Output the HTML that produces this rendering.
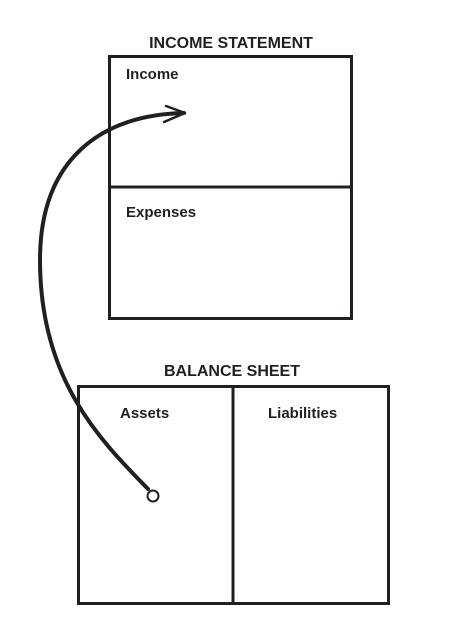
<!DOCTYPE html>
<html><head><meta charset="utf-8"><style>
body{margin:0;background:#fff;width:463px;height:629px;overflow:hidden}
svg{display:block}
text{font-family:"Liberation Sans",Arial,sans-serif;font-weight:bold;fill:#231f20}
</style></head><body>
<svg width="463" height="629" viewBox="0 0 463 629">
<text x="231" y="48" font-size="16" text-anchor="middle">INCOME STATEMENT</text>
<rect x="109.5" y="56.5" width="242" height="262" fill="none" stroke="#231f20" stroke-width="3"/>
<line x1="109" y1="187" x2="352" y2="187" stroke="#231f20" stroke-width="3"/>
<text x="126" y="79" font-size="15">Income</text>
<text x="126" y="217" font-size="15">Expenses</text>
<text x="232" y="376" font-size="16" text-anchor="middle">BALANCE SHEET</text>
<rect x="78.5" y="386.5" width="310" height="217" fill="none" stroke="#231f20" stroke-width="3"/>
<line x1="233" y1="386" x2="233" y2="604" stroke="#231f20" stroke-width="3"/>
<text x="120" y="418" font-size="15">Assets</text>
<text x="268" y="418" font-size="15">Liabilities</text>
<path d="M148,489 C100,440 40,380 40,260 C40,160 100,115 184,113" fill="none" stroke="#231f20" stroke-width="4" stroke-linecap="round"/>
<path d="M166,106 L185,113 L164,122" fill="none" stroke="#231f20" stroke-width="2.5" stroke-linecap="round" stroke-linejoin="round"/>
<circle cx="153" cy="496" r="5.5" fill="#fff" stroke="#231f20" stroke-width="2"/>
</svg>
</body></html>
